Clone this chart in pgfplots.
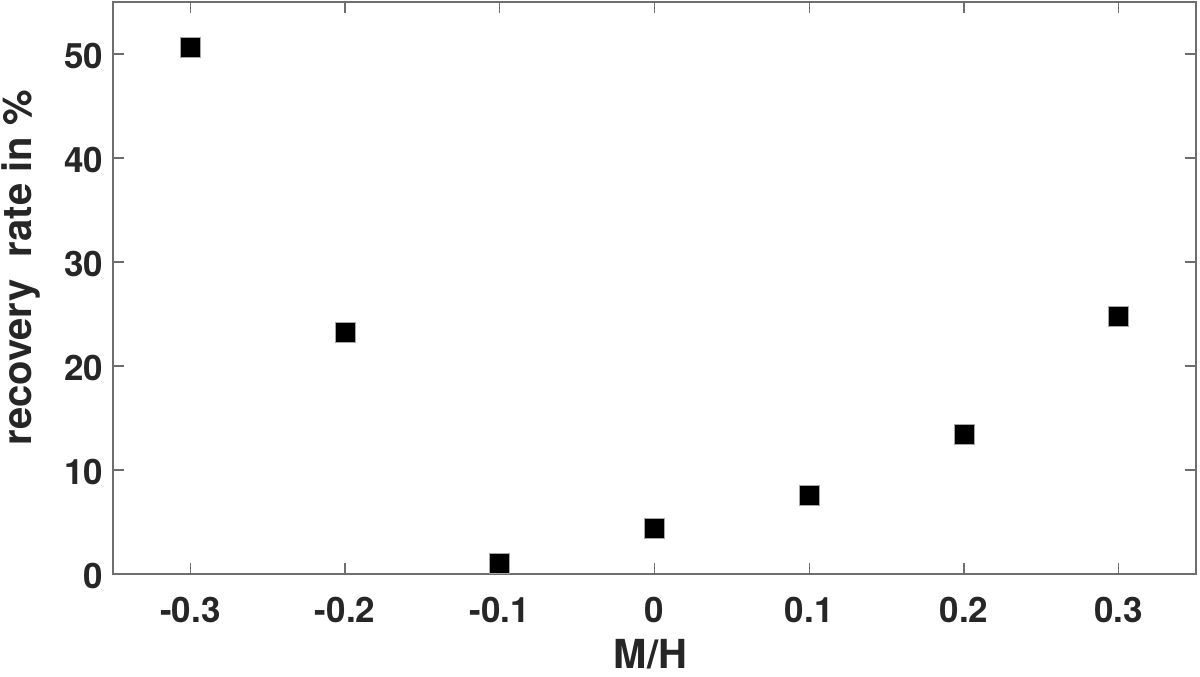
\documentclass[border=0pt]{standalone}
\usepackage{pgfplots}
\pgfplotsset{compat=1.18}
\usepackage{fontspec}
\setmainfont{TeX Gyre Heros}
\definecolor{txt}{HTML}{262626}
\definecolor{axc}{HTML}{6E6E6E}
\begin{document}
\begin{tikzpicture}
\path[use as bounding box] (-56.5pt,-51pt) rectangle (543.5pt,287pt);
\begin{axis}[
  at={(0,0)}, anchor=south west,
  scale only axis, width=541.5pt, height=286pt,
  xmin=-0.35, xmax=0.35, ymin=0, ymax=55,
  xtick={-0.3,-0.2,-0.1,0,0.1,0.2,0.3},
  xticklabels={-0.3,-0.2,-0.1,0,0.1,0.2,0.3},
  ytick={0,10,20,30,40,50},
  tick align=inside, major tick length=5.5pt,
  axis line style={axc, line width=0.6pt},
  tick style={axc, line width=0.6pt},
  ticklabel style={font=\fontsize{17.5}{20}\selectfont\bfseries, text=txt},
  /pgf/number format/assume math mode=true,
  xticklabel style={anchor=base, yshift=-24pt},
  yticklabel style={xshift=-1.5pt, yshift=-1pt},
  xlabel={M/H}, ylabel={recovery\ \ rate in \%},
  label style={font=\fontsize{20}{23}\selectfont\bfseries, text=txt},
  xlabel style={at={(axis description cs:0.5,0)}, anchor=base, inner sep=0pt, yshift=-47pt, xshift=-2pt},
  ylabel style={at={(axis description cs:0,0.5)}, anchor=base, yshift=40.5pt, xshift=10pt},
  clip=false,
]
\addplot[only marks, mark=square*, mark size=5pt, mark options={fill=black, draw=gray!70, line width=0.3pt}]
coordinates {
(-0.3,50.6) (-0.2,23.2) (-0.1,1.0) (0,4.4) (0.1,7.6) (0.2,13.4) (0.3,24.8)
};
\end{axis}
\end{tikzpicture}
\end{document}
